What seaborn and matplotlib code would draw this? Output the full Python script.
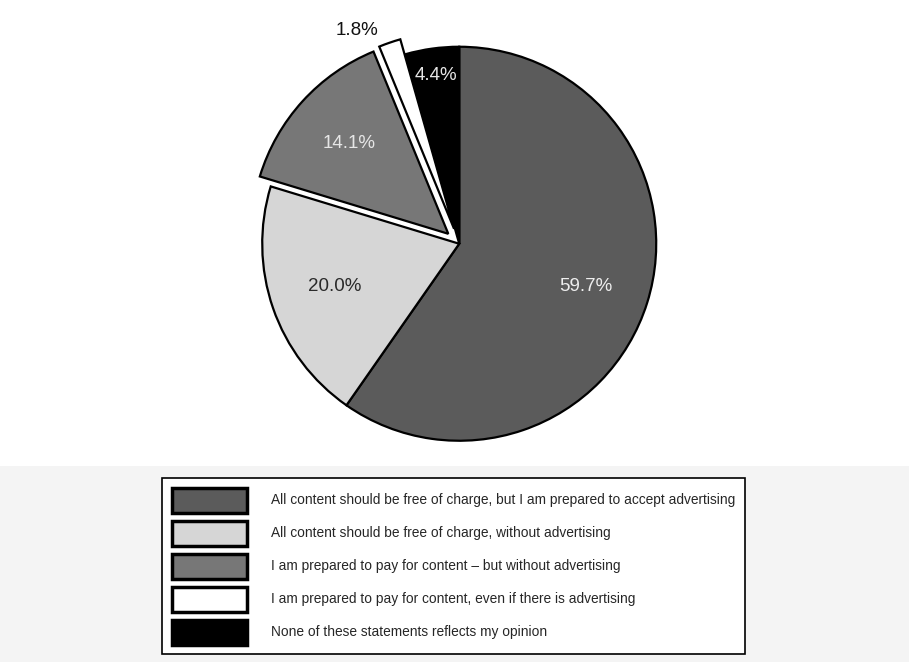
import matplotlib
matplotlib.use("Agg")
import matplotlib.pyplot as plt
import numpy as np
import seaborn as sns
from matplotlib.patches import Rectangle

# survey answers, legend order (pie runs clockwise from 12 o'clock)
answers = [
    "All content should be free of charge, but I am prepared to accept advertising",
    "All content should be free of charge, without advertising",
    "I am prepared to pay for content \u2013 but without advertising",
    "I am prepared to pay for content, even if there is advertising",
    "None of these statements reflects my opinion",
]
shares = [59.7, 20.0, 14.1, 1.8, 4.4]
pull_out = [0.0, 0.0, 0.075, 0.08, 0.0]

slice_colors = ["#5b5b5b", "#d6d6d6", "#777777", "#ffffff", "#000000"]
label_colors = ["#eeeeee", "#2a2a2a", "#e6e6e6", "#111111", "#e6e6e6"]
label_radius = [0.68, 0.67, 0.68, 1.12, 0.86]
label_turn = [-1.0, 0.0, 0.0, 6.5, 0.0]

sns.set_theme(style="white")
plt.rcParams["font.family"] = ["Liberation Sans", "DejaVu Sans"]

fig = plt.figure(figsize=(9.09, 6.62), dpi=100)
fig.patch.set_facecolor("white")
# faint grey band behind the legend, as in the scanned original
fig.patches.append(Rectangle((0, 0), 1, (662 - 466) / 662, transform=fig.transFigure,
                             facecolor="#f4f4f4", edgecolor="none", zorder=-10))

ax = fig.add_axes([0.2343, 0.2598, 0.5418, 0.744])
wedges, _ = ax.pie(
    shares,
    colors=slice_colors,
    explode=pull_out,
    startangle=90,
    counterclock=False,
    wedgeprops={"edgecolor": "black", "linewidth": 1.6},
)
ax.set_xlim(-1.25, 1.25)
ax.set_ylim(-1.25, 1.25)
ax.set_aspect("equal")

for w, val, r, turn, col, ex in zip(wedges, shares, label_radius, label_turn, label_colors, pull_out):
    mid = np.deg2rad((w.theta1 + w.theta2) / 2 + turn)
    rr = r + ex
    ax.text(rr * np.cos(mid), rr * np.sin(mid), f"{val:.1f}%", ha="center", va="center",
            fontsize=13.5, color=col)

leg = fig.legend(
    wedges,
    answers,
    loc="upper left",
    bbox_to_anchor=(162 / 909, 1 - 478 / 662),
    borderaxespad=0,
    frameon=True,
    fancybox=False,
    edgecolor="black",
    facecolor="white",
    framealpha=1,
    fontsize=9.9,
    handlelength=5.5,
    handleheight=2.42,
    handletextpad=1.75,
    labelspacing=0.58,
    borderpad=0.7,
)
leg.get_frame().set_linewidth(1.2)
for h in leg.legend_handles:
    h.set_linewidth(2.5)

fig.savefig("out.png", dpi=100, facecolor=fig.get_facecolor())
